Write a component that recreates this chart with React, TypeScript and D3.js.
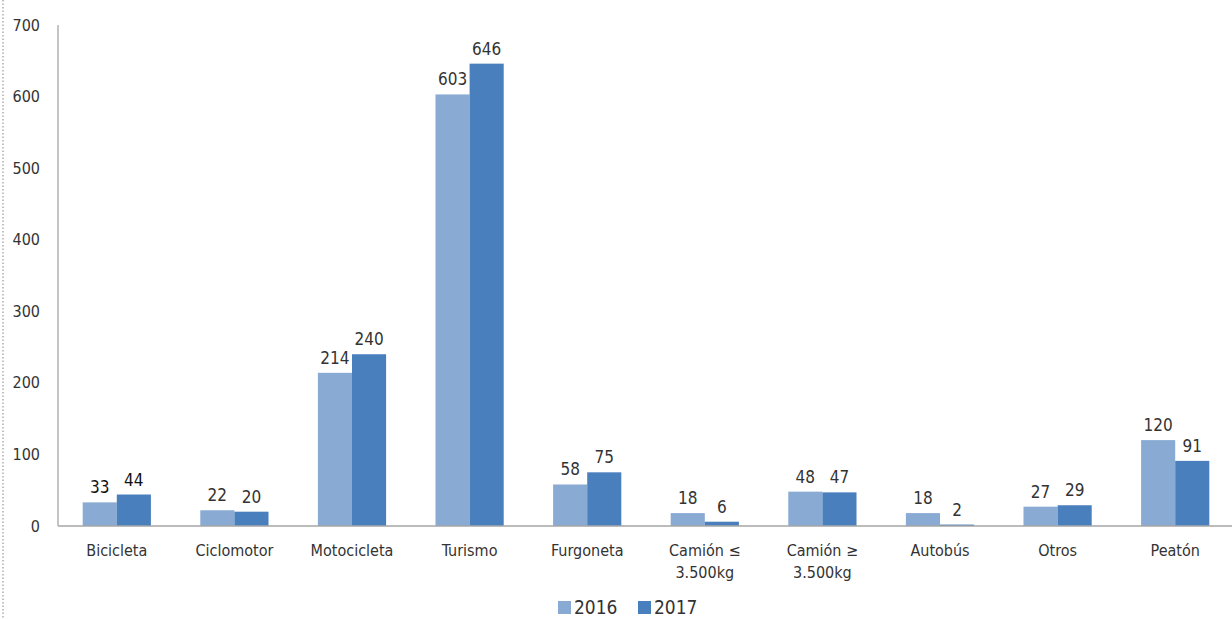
import React from "react";
import * as d3 from "d3";

const categories = [
  ["Bicicleta"],
  ["Ciclomotor"],
  ["Motocicleta"],
  ["Turismo"],
  ["Furgoneta"],
  ["Camión ≤", "3.500kg"],
  ["Camión ≥", "3.500kg"],
  ["Autobús"],
  ["Otros"],
  ["Peatón"],
];
const values2016 = [33, 22, 214, 603, 58, 18, 48, 18, 27, 120];
const values2017 = [44, 20, 240, 646, 75, 6, 47, 2, 29, 91];
const seriesNames = ["2016", "2017"];
const yTicks = [0, 100, 200, 300, 400, 500, 600, 700];

const colors = ["#88aad3", "#4a7fbd"];
const W = 1232;
const H = 619;
const left = 58;
const right = 1234;
const top = 25;
const bottom = 526;
const font = "'DejaVu Sans Condensed', 'Noto Sans', sans-serif";

export default function App() {
  const x = d3
    .scaleBand<number>()
    .domain(d3.range(categories.length))
    .range([left, right])
    .paddingInner(0.42)
    .paddingOuter(0.21);
  const sub = d3.scaleBand<number>().domain([0, 1]).range([0, x.bandwidth()]);
  const y = d3.scaleLinear().domain([0, 700]).range([bottom, top]);
  const series = [values2016, values2017];

  return (
    <svg
      width={W}
      height={H}
      style={{ position: "absolute", left: 0, top: 0, background: "#fff" }}
      fontFamily={font}
    >
      <line x1={3} x2={3} y1={0} y2={H} stroke="#9a9a9a" strokeWidth={1.2} strokeDasharray="1.5,2" />
      {yTicks.map((t) => (
        <text key={t} x={40} y={y(t)} dy="0.35em" textAnchor="end" fontSize={16} fill="#333">
          {t}
        </text>
      ))}
      {series.map((vals, si) =>
        vals.map((v, i) => {
          const bx = (x(i) as number) + (sub(si) as number);
          const bw = sub.bandwidth();
          return (
            <g key={`${si}-${i}`}>
              <rect x={bx} y={y(v)} width={bw} height={bottom - y(v)} fill={colors[si]} />
              <text
                x={bx + bw / 2}
                y={y(v) - 9}
                textAnchor="middle"
                fontSize={17}
                fill={i === 0 ? "#111" : "#333"}
              >
                {v}
              </text>
            </g>
          );
        })
      )}
      <line x1={left} x2={left} y1={top} y2={bottom} stroke="#a6a6a6" strokeWidth={1.3} />
      <line x1={left} x2={W} y1={bottom} y2={bottom} stroke="#a6a6a6" strokeWidth={1.3} />
      {categories.map((lines, i) => (
        <text
          key={i}
          x={(x(i) as number) + x.bandwidth() / 2}
          y={556}
          textAnchor="middle"
          fontSize={16}
          fill="#333"
        >
          {lines.map((l, k) => (
            <tspan key={k} x={(x(i) as number) + x.bandwidth() / 2} dy={k === 0 ? 0 : 22}>
              {l}
            </tspan>
          ))}
        </text>
      ))}
      {seriesNames.map((n, si) => {
        const lx = 558 + si * 80;
        return (
          <g key={n}>
            <rect x={lx} y={601} width={13} height={13} fill={colors[si]} />
            <text x={lx + 16} y={607} dy="0.35em" fontSize={19} fill="#333">
              {n}
            </text>
          </g>
        );
      })}
    </svg>
  );
}
